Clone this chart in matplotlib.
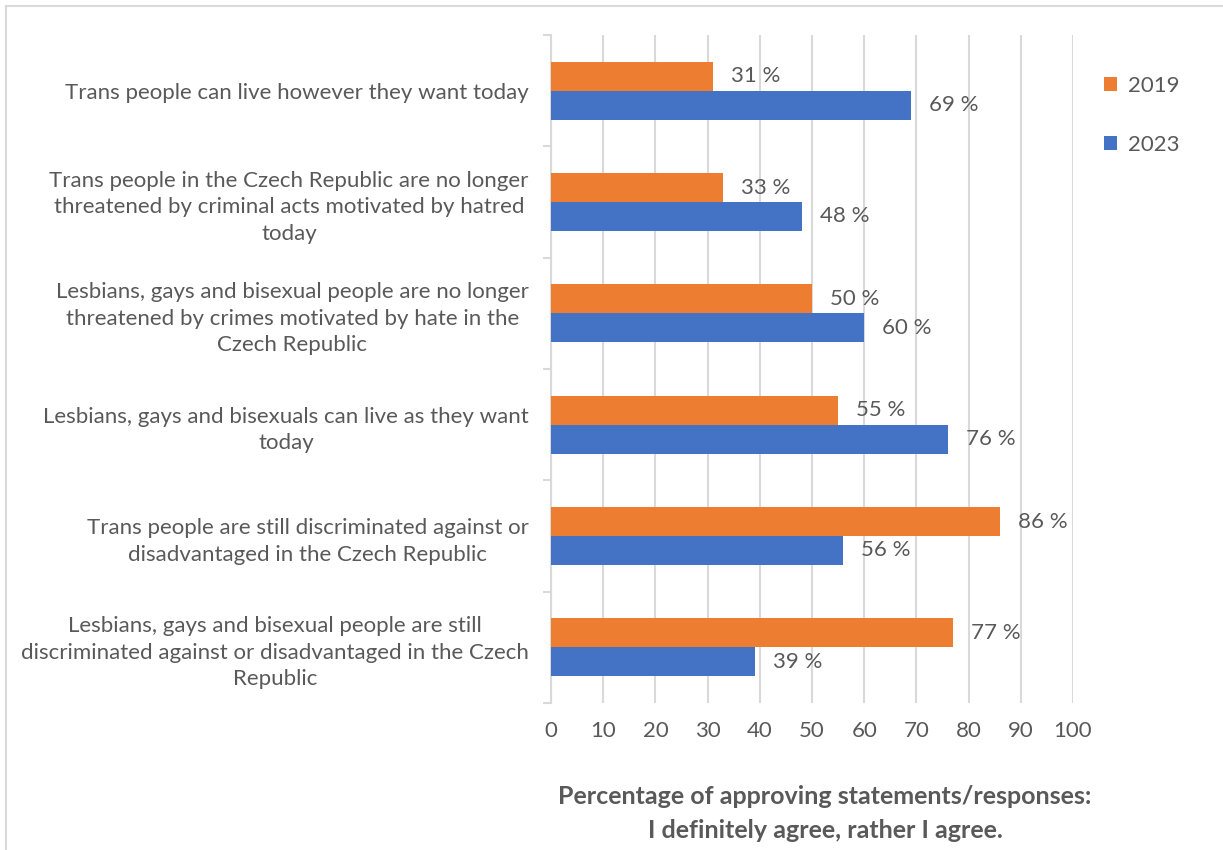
import numpy as np
import matplotlib
matplotlib.use("Agg")
import matplotlib.pyplot as plt
from matplotlib.lines import Line2D

# --------------------------------------
# DATA
# --------------------------------------

statements = [
    "Trans people can live however they want today",
    "Trans people in the Czech Republic are no longer\nthreatened by criminal acts motivated by hatred\ntoday",
    "Lesbians, gays and bisexual people are no longer\nthreatened by crimes motivated by hate in the\nCzech Republic",
    "Lesbians, gays and bisexuals can live as they want\ntoday",
    "Trans people are still discriminated against or\ndisadvantaged in the Czech Republic",
    "Lesbians, gays and bisexual people are still\ndiscriminated against or disadvantaged in the Czech\nRepublic",
]
values_2019 = [31, 33, 50, 55, 86, 77]
values_2023 = [69, 48, 60, 76, 56, 39]
x_ticks = [0, 10, 20, 30, 40, 50, 60, 70, 80, 90, 100]

# --------------------------------------
# STYLE
# --------------------------------------

plt.rcParams["font.family"] = ["Lato", "DejaVu Sans"]
TEXT = "#595959"
GRID = "#d9d9d9"
ORANGE = "#ED7D31"
BLUE = "#4472C4"
FS = 16

W, H = 1223, 850
fig = plt.figure(figsize=(W / 100, H / 100), dpi=100)
ax = fig.add_axes([551 / W, 1 - 703 / H, (1073 - 551) / W, (703 - 35) / H])

# top of list is the top of the chart
n = len(statements)
y = np.arange(n)[::-1]
bh = 0.26

ax.barh(y + bh / 2, values_2019, height=bh, color=ORANGE, label="2019", zorder=3)
ax.barh(y - bh / 2, values_2023, height=bh, color=BLUE, label="2023", zorder=3)

for yi, v in zip(y, values_2019):
    ax.annotate(f"{v} %", (v, yi + bh / 2), xytext=(13, 0), textcoords="offset points",
                va="center", ha="left", fontsize=FS, color=TEXT)
for yi, v in zip(y, values_2023):
    ax.annotate(f"{v} %", (v, yi - bh / 2), xytext=(13, 0), textcoords="offset points",
                va="center", ha="left", fontsize=FS, color=TEXT)

ax.set_xlim(0, 100)
ax.set_ylim(-0.5, n - 0.5)
ax.set_xticks(x_ticks)
ax.set_xticklabels([str(t) for t in x_ticks], fontsize=FS, color=TEXT)
ax.tick_params(axis="x", length=0, pad=13)
ax.xaxis.grid(True, color=GRID, lw=1.5, zorder=0)

ax.set_yticks(y)
ax.set_yticklabels(statements, fontsize=FS, color=TEXT, multialignment="center",
                   linespacing=1.42)
ax.tick_params(axis="y", which="major", length=0, pad=16)
ax.set_yticks(np.arange(-0.5, n, 1.0), minor=True)
ax.tick_params(axis="y", which="minor", length=6, width=1.5, color=GRID)

for s in ["top", "right", "bottom"]:
    ax.spines[s].set_visible(False)
ax.spines["left"].set_color(GRID)
ax.spines["left"].set_linewidth(1.5)

fig.text(825 / W, 1 - 797 / H, "Percentage of approving statements/responses:",
         ha="center", va="center", fontsize=18, fontweight="bold", color=TEXT)
fig.text(825 / W, 1 - 830 / H, "I definitely agree, rather I agree.",
         ha="center", va="center", fontsize=18, fontweight="bold", color=TEXT)

leg = fig.legend(loc="upper left", bbox_to_anchor=(1084 / W, 1 - 56 / H), frameon=False,
                 fontsize=FS, labelcolor=TEXT, handlelength=0.6, handleheight=0.6,
                 handletextpad=0.5, labelspacing=1.75)

# chart border
bx, by = 6 / W, 1 - 6 / H
fig.add_artist(Line2D([bx, 1], [by, by], transform=fig.transFigure, color=GRID, lw=1.5))
fig.add_artist(Line2D([bx, bx], [0, by], transform=fig.transFigure, color=GRID, lw=1.5))

fig.savefig("out.png", dpi=100)
